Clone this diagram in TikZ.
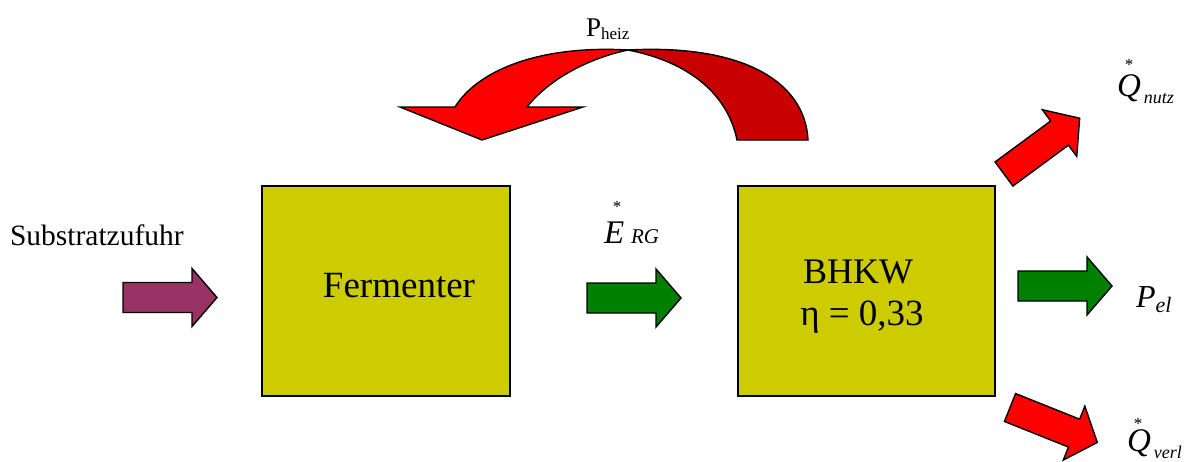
\documentclass[tikz,border=0pt]{standalone}
\usepackage{fontspec}
\setmainfont{Liberation Serif}
\definecolor{boxyellow}{HTML}{CCCC00}
\definecolor{purp}{HTML}{993366}
\definecolor{grn}{HTML}{008000}
\definecolor{rd}{HTML}{FF0000}
\definecolor{drd}{HTML}{C80000}
\newcommand\blockarrow[4]{%
  \begin{scope}[shift={(#2,#3)}, rotate=#4]
    \draw[arrowbox, fill=#1] (0,-15) -- (69,-15) -- (69,-29) -- (94,0) -- (69,29) -- (69,15) -- (0,15) -- cycle;
  \end{scope}}
\newcommand\fs[1]{\fontsize{#1}{#1}\selectfont}
\begin{document}
\begin{tikzpicture}[x=1pt,y=-1pt,
  arrowbox/.style={draw=black, line width=1.4pt, line join=miter},
  block/.style={draw=black, line width=1.4pt, fill=boxyellow, inner sep=0pt},
  lbl/.style={inner sep=0pt, outer sep=0pt},
  star/.style={inner sep=0pt, anchor=base, font=\fs{17}}]
\useasboundingbox (0,0) rectangle (1185,461);
\fill[white] (0,0) rectangle (1185,461);

% boxes
\node[block, minimum width=248pt, minimum height=210pt] (ferm) at (386,291) {};
\node[block, minimum width=257pt, minimum height=210pt] (bhkw) at (866.5,291) {};
\node[lbl, anchor=base, font=\fs{37}] (fermtxt) at (399,297) {Fermenter};
\node[lbl, anchor=base, font=\fs{36}] (bhkwtxt) at (858,283) {BHKW};
\node[lbl, anchor=base, font=\fs{37}] (eta) at (862,325) {η = 0,33};

% left label and arrows
\node[lbl, anchor=base west, font=\fs{29.5}] (sub) at (10,245) {Substratzufuhr};
\blockarrow{purp}{123}{297.5}{0}
\blockarrow{grn}{587}{298}{0}
\blockarrow{grn}{1018}{286}{0}
\blockarrow{rd}{1004}{174}{36.4}
\blockarrow{rd}{1010}{407.5}{-21.8}

% E_RG label
\node[lbl, anchor=base west, font=\fs{33}] (E) at (604,243) {\textit{E}\hspace{7pt}{\fs{21}\textit{RG}}};
\node[star] (sE) at (617,212) {*};

% P_el label
\node[lbl, anchor=base west, font=\fs{32}] (Pel) at (1136,307) {\textit{P}{\fs{22}\raisebox{-5pt}{\textit{el}}}};

% Q_nutz label
\node[lbl, anchor=base west, font=\fs{33}] (Qn) at (1117,96) {\textit{Q}\hspace{3pt}{\fs{18}\raisebox{-7pt}{\textit{nutz}}}};
\node[star] (sQn) at (1129,70) {*};

% Q_verl label
\node[lbl, anchor=base west, font=\fs{33}] (Qv) at (1127,451) {\textit{Q}\hspace{3pt}{\fs{18}\raisebox{-7pt}{\textit{verl}}}};
\node[star] (sQv) at (1138,429) {*};

% curved arrow
\draw[arrowbox, fill=rd] (628,50) .. controls (540,45) and (478,70) .. (455,107)
  -- (400,107) -- (482,140) -- (583,107) -- (527,107)
  .. controls (550,78) and (590,58) .. (628,50) -- cycle;
\draw[arrowbox, fill=drd] (628,50) .. controls (740,44) and (805,80) .. (808,140)
  -- (737,140) .. controls (728,95) and (690,62) .. (628,50) -- cycle;
\node[lbl, anchor=base west, font=\fs{27}] (Ph) at (586,36) {P{\fs{17}\raisebox{-3pt}{heiz}}};
\end{tikzpicture}
\end{document}
